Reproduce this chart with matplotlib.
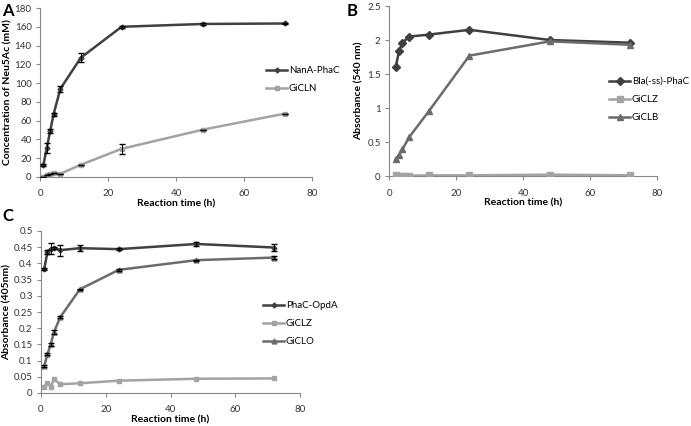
import matplotlib
matplotlib.use("Agg")
import matplotlib.pyplot as plt

plt.rcParams['font.family'] = ['Lato', 'DejaVu Sans']

# Panel A
a_x = [1, 2, 3, 4, 6, 12, 24, 48, 72]
a_nana = [13, 31, 49, 67, 94, 127, 160, 163, 163.5]
a_nana_err = [1, 5, 2, 1.5, 3, 5, 1, 1.5, 1]
a_gicln = [0, 2, 3, 4, 3.5, 13, 30, 50.5, 67.5]
a_gicln_err = [0, 0, 0, 0, 0, 0, 5, 0, 0]

# Panel B
b_bla_x = [2, 3, 4, 6, 12, 24, 48, 72]
b_bla = [1.6, 1.84, 1.96, 2.05, 2.08, 2.15, 2.0, 1.96]
b_giclz_x = [2, 3, 4, 5, 6, 12, 24, 48, 72]
b_giclz = [0.01, 0.0, 0.0, 0.0, 0.005, 0.01, 0.01, 0.02, 0.01]
b_giclb_x = [2, 3, 4, 6, 12, 24, 48, 72]
b_giclb = [0.25, 0.31, 0.39, 0.57, 0.96, 1.77, 1.98, 1.93]

# Panel C
c_x = [1, 2, 3, 4, 6, 12, 24, 48, 72]
c_opda = [0.383, 0.435, 0.445, 0.447, 0.441, 0.447, 0.444, 0.46, 0.449]
c_opda_err = [0.002, 0.007, 0.017, 0.003, 0.017, 0.01, 0.003, 0.007, 0.012]
c_giclz = [0.02, 0.03, 0.02, 0.042, 0.027, 0.03, 0.038, 0.044, 0.045]
c_giclo = [0.083, 0.12, 0.15, 0.188, 0.235, 0.32, 0.38, 0.41, 0.418]
c_giclo_err = [0.003, 0.003, 0.005, 0.005, 0.003, 0.002, 0.002, 0.002, 0.005]

DARK = '#404040'
LIGHT = '#a3a3a3'
MID = '#6b6b6b'
TFS = 7
LFS = 7.5
LEGFS = 7
W, H = 691, 426

fig = plt.figure(figsize=(6.91, 4.26), dpi=100)

def style(ax, xlabel, ylabel, ylim, yticks, ylab_px, ax_left_px, ax_w_px):
    ax.set_xlim(0, 80)
    ax.set_xticks([0, 20, 40, 60, 80])
    ax.set_ylim(*ylim)
    ax.set_yticks(yticks)
    ax.set_yticklabels(['%g' % v for v in yticks])
    for s in ['top', 'right']:
        ax.spines[s].set_visible(False)
    for s in ['left', 'bottom']:
        ax.spines[s].set_color('#888888')
        ax.spines[s].set_linewidth(0.8)
    ax.tick_params(direction='out', length=3, width=0.8, color='#888888', labelsize=TFS,
                   colors='#333333', pad=3)
    ax.tick_params(axis='x', pad=6)
    ax.set_xlabel(xlabel, fontsize=LFS, fontweight='bold', labelpad=1)
    ax.set_ylabel(ylabel, fontsize=LFS, fontweight='bold')
    ax.yaxis.set_label_coords((ylab_px - ax_left_px) / ax_w_px, 0.5)

def legend(ax, px, py):
    ax.legend(loc='upper left', bbox_to_anchor=(px / W, 1 - py / H), bbox_transform=fig.transFigure,
              frameon=False, fontsize=LEGFS, handlelength=2.2, handletextpad=0.15,
              labelspacing=0.95, borderaxespad=0, borderpad=0)

# A
axA = fig.add_axes([40/W, 1-177/H, (312-40)/W, (177-8)/H])
axA.plot(a_x, a_nana, color=DARK, lw=1.8, marker='D', ms=2.5, label='NanA-PhaC', zorder=3)
axA.errorbar(a_x, a_nana, yerr=a_nana_err, fmt='none', ecolor='black', elinewidth=0.7, capsize=2, zorder=4)
axA.plot(a_x, a_gicln, color=LIGHT, lw=1.8, marker='s', ms=3.5, label='GiCLN', zorder=3)
axA.errorbar(a_x, a_gicln, yerr=a_gicln_err, fmt='none', ecolor='black', elinewidth=0.7, capsize=2, zorder=4)
style(axA, 'Reaction time (h)', 'Concentration of Neu5Ac (mM)', (0, 180), list(range(0, 181, 20)), 12, 40, 272)
legend(axA, 266, 66)
fig.text(2/W, 1-3/H, 'A', fontsize=12, fontweight='bold', va='top', ha='left')

# B
axB = fig.add_axes([389/W, 1-176/H, (657-389)/W, (176-6)/H])
axB.plot(b_bla_x, b_bla, color=DARK, lw=1.8, marker='D', ms=4, label='Bla(-ss)-PhaC', zorder=3)
axB.plot(b_giclz_x, b_giclz, color=LIGHT, lw=1.8, marker='s', ms=5, label='GiCLZ', zorder=3)
axB.plot(b_giclb_x, b_giclb, color=MID, lw=1.8, marker='^', ms=5, label='GiCLB', zorder=3)
style(axB, 'Reaction time (h)', 'Absorbance (540 nm)', (0, 2.5), [0, 0.5, 1, 1.5, 2, 2.5], 364, 389, 268)
legend(axB, 609, 77)
fig.text(347/W, 1-3/H, 'B', fontsize=12, fontweight='bold', va='top', ha='left')

# C
axC = fig.add_axes([41/W, 1-393/H, (300-41)/W, (393-231)/H])
axC.plot(c_x, c_opda, color=DARK, lw=1.8, marker='D', ms=2.5, label='PhaC-OpdA', zorder=3)
axC.errorbar(c_x, c_opda, yerr=c_opda_err, fmt='none', ecolor='black', elinewidth=0.7, capsize=2, zorder=4)
axC.plot(c_x, c_giclz, color=LIGHT, lw=1.8, marker='s', ms=3, label='GiCLZ', zorder=3)
axC.plot(c_x, c_giclo, color=MID, lw=1.8, marker='^', ms=3.5, label='GiCLO', zorder=3)
axC.errorbar(c_x, c_giclo, yerr=c_giclo_err, fmt='none', ecolor='black', elinewidth=0.7, capsize=2, zorder=4)
style(axC, 'Reaction time (h)', 'Absorbance (405nm)', (0, 0.5),
      [0, 0.05, 0.1, 0.15, 0.2, 0.25, 0.3, 0.35, 0.4, 0.45, 0.5], 12, 41, 259)
legend(axC, 263, 301)
fig.text(2/W, 1-208/H, 'C', fontsize=12, fontweight='bold', va='top', ha='left')

fig.savefig('out.png', dpi=100)
